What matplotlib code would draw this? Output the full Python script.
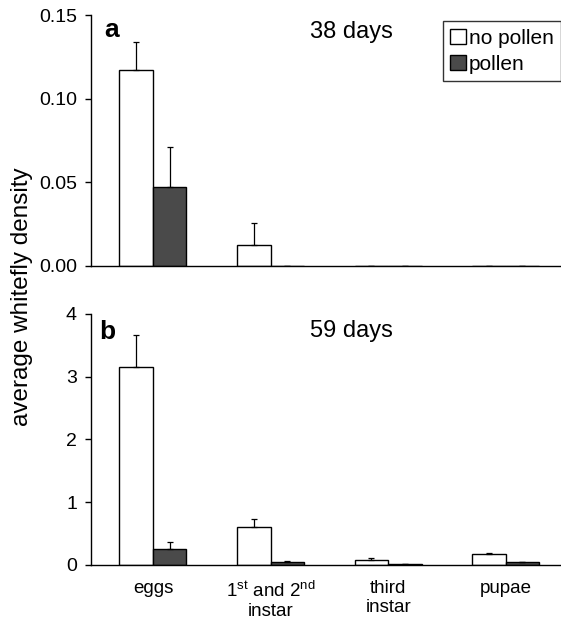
import matplotlib
matplotlib.use("Agg")
import matplotlib.pyplot as plt
import numpy as np
from matplotlib.patches import Patch

plt.rcParams['font.family'] = ['Liberation Sans', 'DejaVu Sans']
plt.rcParams['mathtext.fontset'] = 'custom'
plt.rcParams['mathtext.rm'] = 'Liberation Sans'

categories = ["eggs", r"1$^{\mathrm{st}}$ and 2$^{\mathrm{nd}}$" + "\ninstar", "third\ninstar", "pupae"]

# panel a (38 days)
a_nopollen = [0.117, 0.0125, 0.0, 0.0]
a_nopollen_err = [0.017, 0.013, 0.0, 0.0]
a_pollen = [0.0475, 0.0, 0.0, 0.0]
a_pollen_err = [0.0238, 0.0, 0.0, 0.0]

# panel b (59 days)
b_nopollen = [3.15, 0.61, 0.08, 0.175]
b_nopollen_err = [0.52, 0.12, 0.027, 0.021]
b_pollen = [0.26, 0.05, 0.01, 0.04]
b_pollen_err = [0.11, 0.01, 0.01, 0.015]

fig = plt.figure(figsize=(5.61, 6.21), dpi=100)
axA = fig.add_axes([0.162, 0.5717, 0.838, 0.4041])
axB = fig.add_axes([0.162, 0.0902, 0.838, 0.4042])

x = np.arange(len(categories))
w = 0.285
dark = '#4a4a4a'

def draw(ax, nop, nope, pol, pole, ylim, yticks, fmt):
    ax.bar(x - w/2, nop, w, color='white', edgecolor='black', linewidth=1.0,
           yerr=[np.zeros(len(nop)), nope], capsize=2.5,
           error_kw=dict(ecolor='black', elinewidth=0.9, capthick=0.9), zorder=2)
    ax.bar(x + w/2, pol, w, color=dark, edgecolor='black', linewidth=1.0,
           yerr=[np.zeros(len(pol)), pole], capsize=2.5,
           error_kw=dict(ecolor='black', elinewidth=0.9, capthick=0.9), zorder=2)
    ax.set_xlim(-0.528, 3.47)
    ax.set_ylim(*ylim)
    ax.set_yticks(yticks)
    ax.set_yticklabels([fmt.format(v) for v in yticks], fontsize=14)
    for s in ['top', 'right']:
        ax.spines[s].set_visible(False)
    ax.spines['left'].set_linewidth(1.0)
    ax.spines['bottom'].set_linewidth(1.0)
    ax.tick_params(axis='y', direction='out', length=4, width=1.0, pad=6)
    ax.tick_params(axis='x', length=0)

draw(axA, a_nopollen, a_nopollen_err, a_pollen, a_pollen_err, (0, 0.15),
     [0.0, 0.05, 0.10, 0.15], "{:.2f}")
axA.set_xticks([])
draw(axB, b_nopollen, b_nopollen_err, b_pollen, b_pollen_err, (0, 4),
     [0, 1, 2, 3, 4], "{:d}")
axB.set_xticks(x)
axB.set_xticklabels(categories, fontsize=13.5, linespacing=1.15)
axB.tick_params(axis='x', pad=11)

axA.text(0.028, 0.99, 'a', transform=axA.transAxes, fontsize=19, fontweight='bold', va='top')
axB.text(0.018, 0.975, 'b', transform=axB.transAxes, fontsize=19, fontweight='bold', va='top')
axA.text(0.555, 0.975, '38 days', transform=axA.transAxes, fontsize=17, va='top', ha='center')
axB.text(0.555, 0.975, '59 days', transform=axB.transAxes, fontsize=17, va='top', ha='center')

handles = [Patch(facecolor='white', edgecolor='black', linewidth=1.0, label='no pollen'),
           Patch(facecolor=dark, edgecolor='black', linewidth=1.0, label='pollen')]
leg = axA.legend(handles=handles, loc='upper right', bbox_to_anchor=(1.0, 0.975),
                 fontsize=15, frameon=True, fancybox=False, handlelength=0.75,
                 handleheight=0.75, handletextpad=0.15, borderpad=0.35, labelspacing=0.35,
                 borderaxespad=0.0)
leg.get_frame().set_edgecolor('black')
leg.get_frame().set_linewidth(1.0)

fig.text(0.039, 0.523, 'average whitefly density', rotation=90, fontsize=17.5,
         ha='center', va='center')

fig.savefig('out.png', dpi=100)
